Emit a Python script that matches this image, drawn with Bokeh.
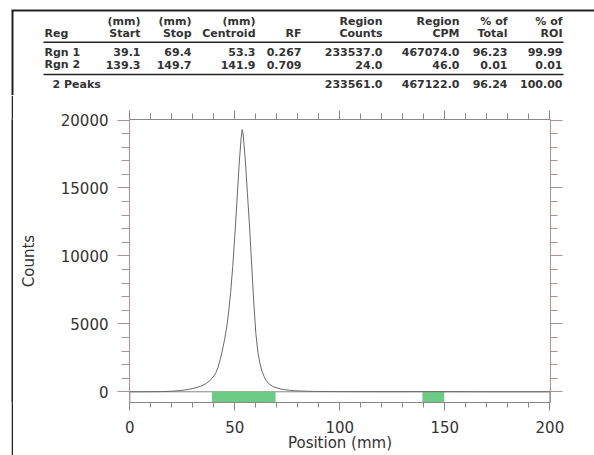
from bokeh.plotting import figure
from bokeh.models import Range1d, LinearAxis, FixedTicker, Spacer
from bokeh.layouts import column, row
from bokeh.core.properties import value
from bokeh.embed import file_html
from bokeh.resources import INLINE

# ---- data ----
position_mm = [0, 5, 10, 15, 20, 22, 24, 26, 28, 30, 32, 34, 36, 38, 40, 41, 42, 43, 44, 45,
               46, 47, 48, 49, 50, 51, 52, 53, 53.5, 54, 55, 56, 57, 58, 59, 60, 61, 62, 63,
               64, 65, 66, 68, 70, 72, 74, 76, 78, 80, 85, 90, 100, 110, 120, 130, 140, 142,
               145, 150, 160, 170, 180, 190, 200]
counts = [0, 0, 5, 10, 40, 60, 90, 130, 180, 240, 320, 420, 580, 800, 1150, 1400, 1800, 2350, 3000, 3750,
          4600, 5800, 7300, 9200, 11500, 14000, 16600, 18700, 19300, 18900, 17000, 14600, 12200, 9400, 6600, 4300, 2900, 2050, 1500,
          1100, 820, 620, 400, 280, 200, 150, 110, 80, 60, 35, 20, 10, 8, 5, 5, 8, 10,
          8, 5, 3, 0, 0, 0, 0]

region_names = ["Rgn  1", "Rgn  2"]
region_start = [39.1, 139.3]
region_stop = [69.4, 149.7]
region_centroid = [53.3, 141.9]
region_rf = [0.267, 0.709]
region_counts = [233537.0, 24.0]
region_cpm = [467074.0, 46.0]
pct_total = [96.23, 0.01]
pct_roi = [99.99, 0.01]
summary_label = "2 Peaks"
summary_counts = 233561.0
summary_cpm = 467122.0
summary_pct_total = 96.24
summary_pct_roi = 100.00

header_top = ["(mm)", "(mm)", "(mm)", "", "Region", "Region", "% of", "% of"]
header_bottom = ["Start", "Stop", "Centroid", "RF", "Counts", "CPM", "Total", "ROI"]

x_ticks = [0, 50, 100, 150, 200]
x_minor = [10, 20, 30, 40, 60, 70, 80, 90, 110, 120, 130, 140, 160, 170, 180, 190]
y_ticks = [0, 5000, 10000, 15000, 20000]
y_minor = [1000, 2000, 3000, 4000, 6000, 7000, 8000, 9000, 11000, 12000, 13000, 14000,
           16000, 17000, 18000, 19000]

FONT = "DejaVu Sans"
TXT = "#333333"
W, H = 594, 455
TOP_H = 95          # height of the table band
GAP_W = 11          # white margin left of the border line
LINE_W = 2          # border line thickness
CH_X = GAP_W + LINE_W

# ================= table band =================
t = figure(width=W, height=TOP_H, output_backend="svg", toolbar_location=None,
           x_range=Range1d(0, W), y_range=Range1d(TOP_H, 0),
           x_axis_type=None, y_axis_type=None, min_border=0)
t.outline_line_color = None
t.background_fill_color = "white"
t.border_fill_color = "white"

cols = [140, 191, 255, 301, 382, 459, 507, 562]
rx, ry, rt = [], [], []
lx, ly, lt = [], [], []
for X, a, b in zip(cols, header_top, header_bottom):
    if a:
        rx.append(X); ry.append(21); rt.append(a)
    rx.append(X); ry.append(33); rt.append(b)
lx.append(44); ly.append(33); lt.append("Reg")
rows_y = [51.5, 64]
for i in range(2):
    Y = rows_y[i]
    lx.append(44); ly.append(Y); lt.append(region_names[i])
    vals = [f"{region_start[i]:.1f}", f"{region_stop[i]:.1f}", f"{region_centroid[i]:.1f}",
            f"{region_rf[i]:.3f}", f"{region_counts[i]:.1f}", f"{region_cpm[i]:.1f}",
            f"{pct_total[i]:.2f}", f"{pct_roi[i]:.2f}"]
    for X, v in zip(cols, vals):
        rx.append(X); ry.append(Y); rt.append(v)
lx.append(52); ly.append(83.5); lt.append(summary_label)
for X, v in zip(cols[4:], [f"{summary_counts:.1f}", f"{summary_cpm:.1f}",
                           f"{summary_pct_total:.2f}", f"{summary_pct_roi:.2f}"]):
    rx.append(X); ry.append(83.5); rt.append(v)

common = dict(text_baseline="middle", text_font=value(FONT), text_font_style="bold",
              text_font_size="11px", text_color=TXT)
t.text(x=rx, y=ry, text=rt, text_align="right", **common)
t.text(x=lx, y=ly, text=lt, text_align="left", **common)

t.segment(x0=[43, 43], y0=[41.7, 74], x1=[563, 563], y1=[41.7, 74], line_color="#222222", line_width=1.6)
t.segment(x0=[GAP_W], y0=[10], x1=[W], y1=[10], line_color="#222222", line_width=2)
t.segment(x0=[GAP_W + 1], y0=[10], x1=[GAP_W + 1], y1=[TOP_H], line_color="#222222", line_width=2)

# ================= left border line band (solid dark strip) =================
gap = Spacer(width=GAP_W, height=H - TOP_H)
s = figure(width=LINE_W, height=H - TOP_H, output_backend="svg", toolbar_location=None,
           x_range=Range1d(0, 1), y_range=Range1d(0, 1),
           x_axis_type=None, y_axis_type=None, min_border=0)
s.outline_line_color = None
s.background_fill_color = "#222222"
s.border_fill_color = "#222222"

# ================= chart =================
FL, FB = 129, 402
p = figure(width=W - CH_X, height=H - TOP_H, output_backend="svg", toolbar_location=None,
           x_range=Range1d(-0.15, 200.3), y_range=Range1d(-790, 20040),
           x_axis_type=None, y_axis_type=None,
           min_border_left=FL - CH_X, min_border_right=44,
           min_border_top=119 - TOP_H, min_border_bottom=H - FB)
p.outline_line_color = None
p.background_fill_color = "white"
p.border_fill_color = "white"

def style_axis(ax, major_out, minor_out, color="#888888"):
    ax.major_tick_out = major_out
    ax.major_tick_in = 0
    ax.minor_tick_out = minor_out
    ax.minor_tick_in = 0
    ax.axis_line_color = color
    ax.major_tick_line_color = color
    ax.minor_tick_line_color = color
    ax.major_label_text_font = FONT
    ax.major_label_text_font_size = "15px"
    ax.major_label_text_color = TXT
    ax.axis_label_text_font = FONT
    ax.axis_label_text_font_size = "15px"
    ax.axis_label_text_font_style = "normal"
    ax.axis_label_text_color = TXT

left = LinearAxis(ticker=FixedTicker(ticks=y_ticks, minor_ticks=y_minor), axis_label="Counts")
style_axis(left, 12, 8, "#b09090")
left.major_label_standoff = 9
left.axis_label_standoff = 20
p.add_layout(left, "left")

right = LinearAxis(ticker=FixedTicker(ticks=y_ticks, minor_ticks=y_minor))
style_axis(right, 12, 7, "#b09090")
right.major_label_overrides = {v: "" for v in y_ticks}
p.add_layout(right, "right")

bottom = LinearAxis(ticker=FixedTicker(ticks=x_ticks, minor_ticks=x_minor), axis_label="Position (mm)")
style_axis(bottom, 8, 5)
bottom.major_label_standoff = 10
bottom.axis_label_standoff = -2
p.add_layout(bottom, "below")

top = LinearAxis(ticker=FixedTicker(ticks=x_ticks, minor_ticks=x_minor))
style_axis(top, 9, 6)
top.major_label_overrides = {v: "" for v in x_ticks}
p.add_layout(top, "above")

# lane strip below the baseline, with the regions in green
p.quad(left=[x_ticks[0]], right=[x_ticks[-1]], bottom=[-790], top=[0],
       fill_color="white", line_color="#888888", line_width=1)
p.quad(left=region_start, right=region_stop, bottom=[-790] * 2, top=[0] * 2,
       fill_color="#6ccb84", line_color=None)

# chromatogram trace
p.line(position_mm, counts, line_color="#6a6a6a", line_width=1)

layout = column(t, row(gap, s, p, spacing=0), spacing=0)
open("out.html", "w").write(file_html(layout, INLINE))
